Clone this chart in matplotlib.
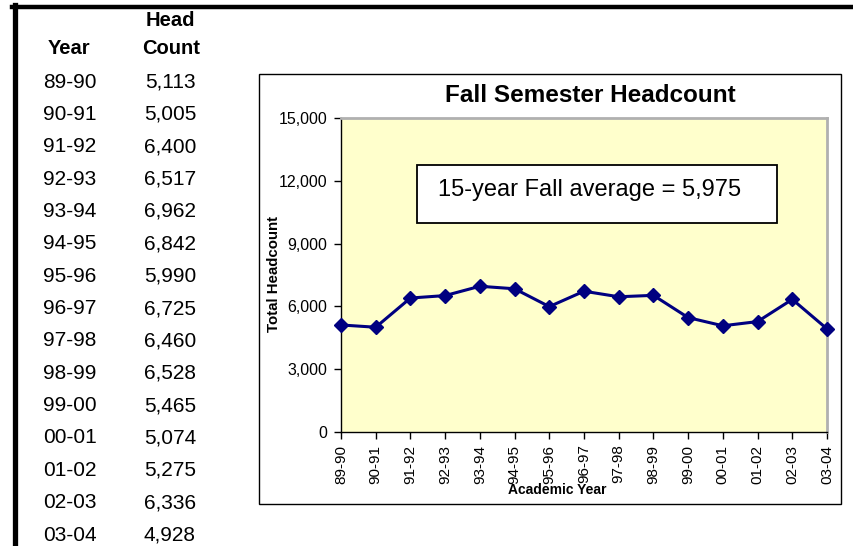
import matplotlib
matplotlib.use("Agg")
import matplotlib.pyplot as plt
from matplotlib.patches import Rectangle

years = ['89-90', '90-91', '91-92', '92-93', '93-94', '94-95', '95-96', '96-97',
         '97-98', '98-99', '99-00', '00-01', '01-02', '02-03', '03-04']
headcount = [5113, 5005, 6400, 6517, 6962, 6842, 5990, 6725,
             6460, 6528, 5465, 5074, 5275, 6336, 4928]
yticks = [0, 3000, 6000, 9000, 12000, 15000]
avg_text = '15-year Fall average = 5,975'

plt.rcParams['font.family'] = ['Liberation Sans', 'DejaVu Sans']

W, H = 854, 546
fig = plt.figure(figsize=(W / 100, H / 100), dpi=100)

def fx(px):
    return px / W

def fy(py):
    return 1 - py / H

# page borders (thick black lines at left and top)
fig.add_artist(plt.Line2D([fx(14.5), fx(14.5)], [fy(5), fy(546)], color='black', lw=3.8))
fig.add_artist(plt.Line2D([fx(12), fx(854)], [fy(6.5), fy(6.5)], color='black', lw=3.2))

# table on the left
fig.text(fx(170), fy(20), 'Head', ha='center', va='center', fontsize=14.5, fontweight='bold')
fig.text(fx(171), fy(48), 'Count', ha='center', va='center', fontsize=14.5, fontweight='bold')
fig.text(fx(69), fy(48), 'Year', ha='center', va='center', fontsize=14.5, fontweight='bold')
for i, (yr, hc) in enumerate(zip(years, headcount)):
    ypos = 82 + i * 32.36
    fig.text(fx(70), fy(ypos), yr, ha='center', va='center', fontsize=15)
    fig.text(fx(170), fy(ypos), f'{hc:,}', ha='center', va='center', fontsize=15)

# chart frame
fig.add_artist(Rectangle((fx(259), fy(504)), fx(841) - fx(259), fy(74) - fy(504),
                         transform=fig.transFigure, fill=False, edgecolor='black', lw=1))

ax = fig.add_axes([fx(341), fy(432), fx(827) - fx(341), fy(118) - fy(432)])
ax.set_facecolor('#FFFFCC')
x = list(range(len(years)))
ax.plot(x, headcount, color='#000080', lw=2.2, marker='D', markersize=7, clip_on=False, zorder=5)
ax.set_xlim(0, len(years) - 1)
ax.set_ylim(0, 15000)
ax.set_yticks(yticks)
ax.set_yticklabels([f'{v:,}' for v in yticks], fontsize=11.5)
ax.set_xticks(x)
ax.set_xticklabels(years, rotation=90, fontsize=11)
ax.tick_params(direction='out', length=5, width=1)
ax.tick_params(axis='y', pad=5)
ax.tick_params(axis='x', pad=4)
for s in ['top', 'right']:
    ax.spines[s].set_color('#B0B0B0')
    ax.spines[s].set_linewidth(2)
for s in ['left', 'bottom']:
    ax.spines[s].set_color('black')
    ax.spines[s].set_linewidth(1)

fig.text(fx(590), fy(95), 'Fall Semester Headcount', ha='center', va='center',
         fontsize=17.5, fontweight='bold')
fig.text(fx(274), fy(274), 'Total Headcount', ha='center', va='center', rotation=90,
         fontsize=10.8, fontweight='bold')
fig.text(fx(557), fy(490), 'Academic Year', ha='center', va='center',
         fontsize=10, fontweight='bold')

# average annotation box
fig.add_artist(Rectangle((fx(417), fy(223)), fx(777) - fx(417), fy(165) - fy(223),
                         transform=fig.transFigure, facecolor='white', edgecolor='black',
                         lw=1.3, zorder=6))
fig.text(fx(438), fy(190), avg_text, ha='left', va='center', fontsize=17, zorder=7)

fig.savefig('out.png', dpi=100)
